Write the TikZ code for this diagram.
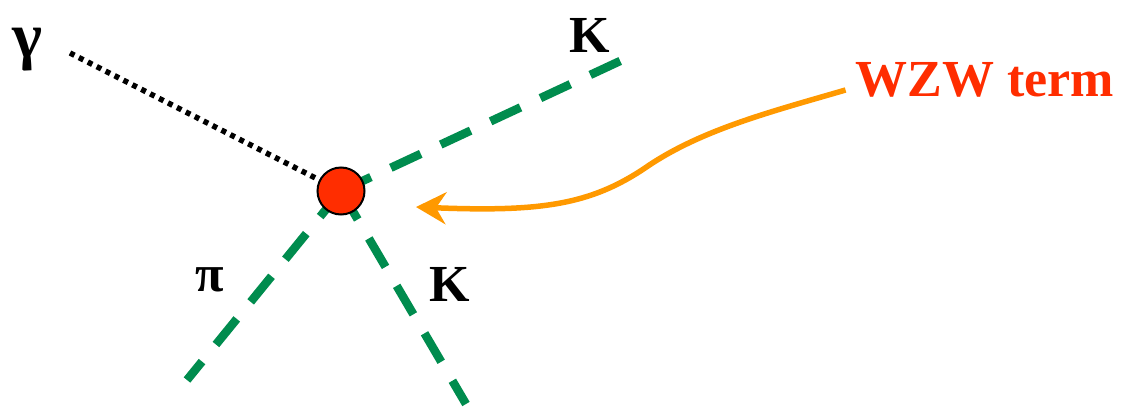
\documentclass[tikz,border=0pt]{standalone}
\usepackage{fontspec}
\setmainfont{Liberation Serif}
\usetikzlibrary{arrows.meta}
\definecolor{meson}{RGB}{0,140,78}
\definecolor{vred}{RGB}{255,45,0}
\definecolor{arrorange}{RGB}{255,153,0}
\tikzset{
  mesonline/.style={draw=meson,line width=8.5pt,dash pattern=on 33pt off 22pt},
  photonline/.style={draw=black,line width=5.5pt,dash pattern=on 5pt off 5pt},
  lbl/.style={font=\fontsize{52}{58}\selectfont\bfseries,inner sep=0pt},
  vtx/.style={circle,draw=black,line width=2pt,fill=vred,minimum size=47pt,inner sep=0pt},
}
\begin{document}
\begin{tikzpicture}[x=1pt,y=-1pt]
\useasboundingbox (0,0) rectangle (1122,407);
\coordinate (g) at (70,53);
\coordinate (k1) at (633,55);
\coordinate (p) at (187,380);
\coordinate (k2) at (466,404);
\coordinate (tip) at (416,207);
\draw[photonline] (g) -- (341,191);
\draw[mesonline] (341,191) -- (k1);
\draw[mesonline] (341,191) -- (p);
\draw[mesonline] (341,191) -- (k2);
\node[vtx] (v) at (341,191) {};
\node[lbl,font=\fontsize{64}{70}\selectfont\bfseries] (lg) at (27,50) {γ};
\node[lbl] (lk1) at (590,35) {K};
\node[lbl] (lp) at (210,280) {π};
\node[lbl] (lk2) at (450,284) {K};
\node[lbl,text=vred] (w) at (985,80) {WZW term};
\draw[arrorange,line width=5.5pt,-{Stealth[length=30pt,width=32pt,inset=10pt]}]
  (w.west) ++(-10,10) .. controls (770,112) and (700,130) .. (645,168)
  .. controls (590,205) and (540,212) .. (tip);
\end{tikzpicture}
\end{document}
